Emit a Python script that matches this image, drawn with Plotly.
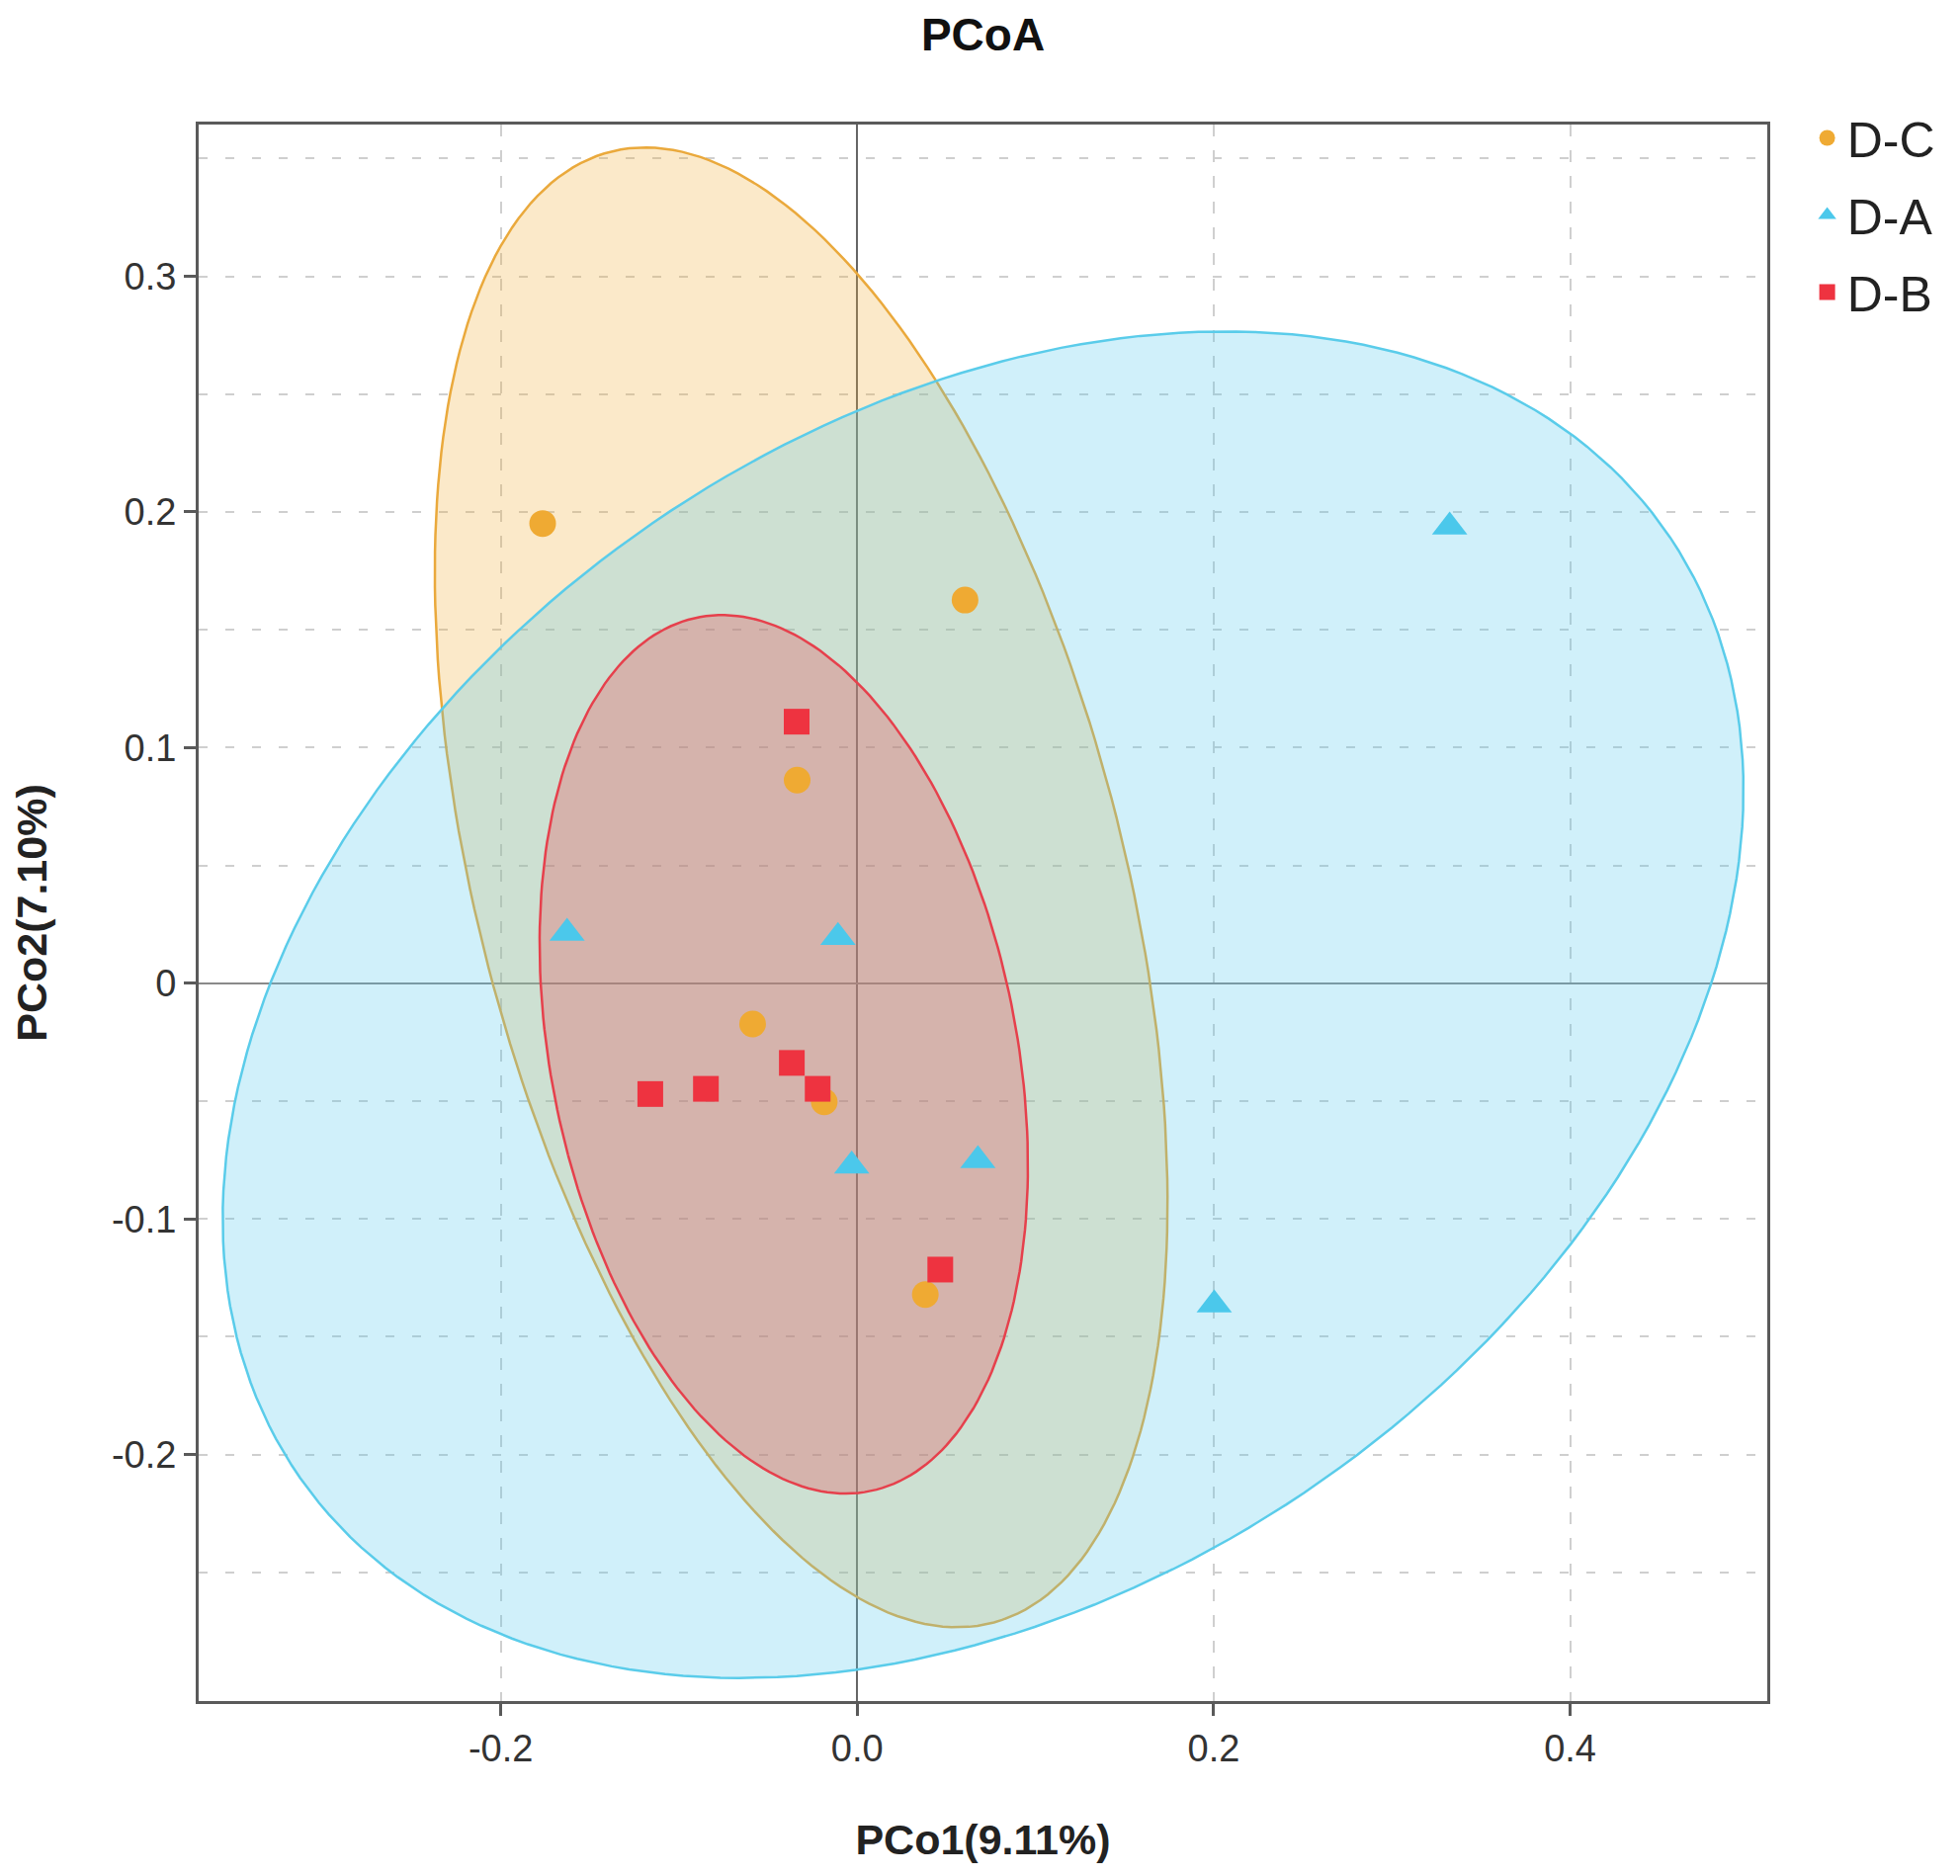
import numpy as np
import plotly.graph_objects as go

# PCoA scores
groups = ['D-C', 'D-A', 'D-B']

dc_x = [-0.1765, 0.0605, -0.0337, -0.0587, -0.0185, 0.0382]
dc_y = [0.1951, 0.1626, 0.0862, -0.0173, -0.0503, -0.1321]

da_x = [0.3324, -0.1628, -0.0108, -0.0031, 0.0677, 0.2003]
da_y = [0.1937, 0.0213, 0.0195, -0.0775, -0.0752, -0.1364]

db_x = [-0.0340, -0.1161, -0.0849, -0.0367, -0.0222, 0.0466]
db_y = [0.1110, -0.0470, -0.0448, -0.0338, -0.0448, -0.1215]

x_ticks = [-0.2, 0.0, 0.2, 0.4]
x_tick_text = ['-0.2', '0.0', '0.2', '0.4']
y_ticks = [-0.2, -0.1, 0.0, 0.1, 0.2, 0.3]
y_tick_text = ['-0.2', '-0.1', '0', '0.1', '0.2', '0.3']
y_minor = [-0.25, -0.15, -0.05, 0.05, 0.15, 0.25, 0.35]

FONT = 'Liberation Sans, Arial, sans-serif'

style = {
    'D-C': dict(color='#efaa33', line='#eaa93c', fill='rgba(240,172,56,0.27)', symbol='circle', size=27),
    'D-A': dict(color='#4bc8eb', line='#5accea', fill='rgba(80,200,236,0.27)', symbol='triangle-up', size=31),
    'D-B': dict(color='#ee3340', line='#e6404c', fill='rgba(236,60,70,0.27)', symbol='square', size=26),
}


def conf_ellipse(x, y, level=0.95, n=240):
    # normal confidence ellipse, chi-square radius with 2 df
    pts = np.column_stack([x, y])
    mu = pts.mean(axis=0)
    cov = np.cov(pts, rowvar=False)
    r = np.sqrt(-2 * np.log(1 - level))
    vals, vecs = np.linalg.eigh(cov)
    t = np.linspace(0, 2 * np.pi, n)
    circle = np.vstack([np.cos(t), np.sin(t)])
    ell = vecs @ (np.sqrt(vals)[:, None] * circle) * r
    return ell[0] + mu[0], ell[1] + mu[1]


data = {'D-C': (dc_x, dc_y), 'D-A': (da_x, da_y), 'D-B': (db_x, db_y)}

fig = go.Figure()

for g in groups:
    ex, ey = conf_ellipse(*data[g])
    s = style[g]
    fig.add_trace(go.Scatter(
        x=ex, y=ey, mode='lines', fill='toself',
        fillcolor=s['fill'], line=dict(color=s['line'], width=2.5),
        showlegend=False, hoverinfo='skip'
    ))

for g in groups:
    s = style[g]
    x, y = data[g]
    fig.add_trace(go.Scatter(
        x=x, y=y, mode='markers', name=g, legendgroup=g,
        marker=dict(symbol=s['symbol'], size=s['size'], color=s['color'])
    ))

axis_common = dict(
    showline=True, mirror=True, linecolor='#5a5a5a', linewidth=3,
    ticks='outside', ticklen=12, tickwidth=3, tickcolor='#5a5a5a',
    tickfont=dict(family=FONT, size=38, color='#333333'),
    showgrid=True, gridcolor='#cfcfcf', gridwidth=2,
)

fig.update_xaxes(
    range=[-0.3695, 0.5106], tickvals=x_ticks, ticktext=x_tick_text, griddash='12px,14px',
    zeroline=True, zerolinecolor='#666666', zerolinewidth=2,
    title=dict(text='<b>PCo1(9.11%)</b>', font=dict(family=FONT, size=43, color='#222222'), standoff=58),
    **axis_common
)
fig.update_yaxes(
    range=[-0.3046, 0.3644], tickvals=y_ticks, ticktext=y_tick_text, griddash='9px,18px',
    zeroline=True, zerolinecolor='#8a8a8a', zerolinewidth=2,
    minor=dict(tickvals=y_minor, showgrid=True, gridcolor='#cfcfcf', gridwidth=2, griddash='9px,18px', ticks=''),
    title=dict(text='<b>PCo2(7.10%)</b>', font=dict(family=FONT, size=43, color='#222222'), standoff=52),
    **axis_common
)

# the page body keeps its default 8px margin, so the figure is sized to fit inside it
fig.update_layout(
    width=1967, height=1882,
    margin=dict(l=193, r=174, t=118, b=165),
    paper_bgcolor='white', plot_bgcolor='white',
    title=dict(text='<b>PCoA</b>', x=0.5, xref='paper', y=1 - 27 / 1882, yref='container',
               yanchor='middle', font=dict(family=FONT, size=46, color='#111111')),
    legend=dict(x=1.0256, y=1.016, xanchor='left', yanchor='top',
                font=dict(family=FONT, size=50, color='#222222'),
                tracegroupgap=10, itemsizing='trace', bgcolor='rgba(0,0,0,0)'),
    showlegend=True,
)

fig.write_html("out.html")
